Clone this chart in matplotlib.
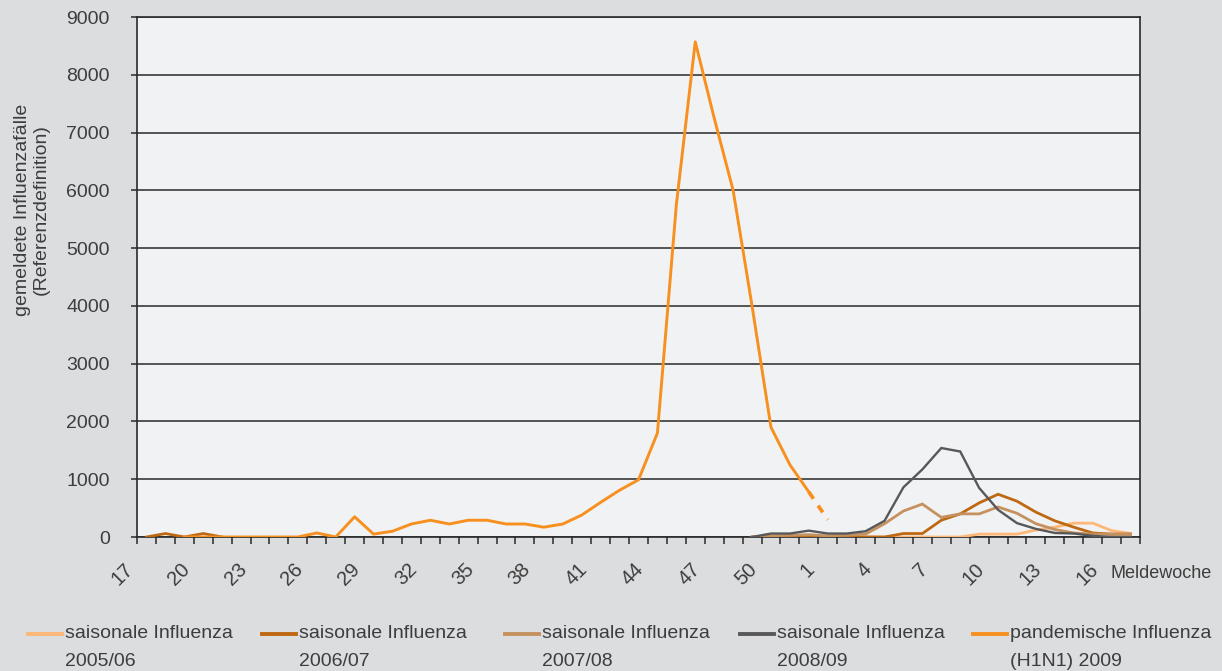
import numpy as np
import matplotlib
matplotlib.use('Agg')
import matplotlib.pyplot as plt
from matplotlib.lines import Line2D

plt.rcParams['font.family'] = ['Liberation Sans', 'DejaVu Sans']

N = None
# Meldewochen: 17/2009 ... 52/2009, 1/2010 ... 17/2010
weeks = list(range(17, 53)) + list(range(1, 18))

pandemic = [N, N, 0, 0, 0, 0, 0, 0, 0, 70,
            0, 350, 50, 100, 225, 290, 225, 290, 290, 225,
            225, 170, 225, 380, 600, 810, 990, 1800, 5750, 8570,
            7250, 6000, 4000, 1900, 1250, 780, 300, N, N, N,
            N, N, N, N, N, N, N, N, N, N,
            N, N, N]
prelim_from = 35  # last segment (week 52 -> week 1) dashed

s0506 = [N, N, N, N, N, N, N, N, N, N,
         N, N, N, N, N, N, N, N, N, N,
         N, N, N, N, N, N, N, N, N, N,
         N, N, 0, 0, 0, 0, 0, 0, 0, 0,
         0, 0, 0, 0, 50, 50, 50, 120, 170, 240,
         240, 110, 60]
s0607 = [0, 60, 0, 60, 0, N, N, N, N, N,
         N, N, N, N, N, N, N, N, N, N,
         N, N, N, N, N, N, N, N, N, N,
         N, N, 0, 0, 0, 0, 0, 0, 0, 0,
         60, 60, 290, 400, 590, 740, 620, 430, 280, 170,
         70, 50, 50]
s0708 = [N, N, N, N, N, N, N, N, N, N,
         N, N, N, N, N, N, N, N, N, N,
         N, N, N, N, N, N, N, N, N, N,
         N, N, 0, 20, 30, 40, 20, 30, 50, 230,
         450, 570, 340, 400, 400, 520, 410, 230, 130, 70,
         50, 50, 50]
s0809 = [N, N, N, N, N, N, N, N, N, N,
         N, N, N, N, N, N, N, N, N, N,
         N, N, N, N, N, N, N, N, N, N,
         N, N, 0, 60, 60, 110, 60, 60, 100, 280,
         860, 1170, 1540, 1480, 850, 470, 240, 140, 70, 60,
         20, 0, 0]

legend_l1 = ['saisonale Influenza', 'saisonale Influenza', 'saisonale Influenza',
             'saisonale Influenza', 'pandemische Influenza']
legend_l2 = ['2005/06', '2006/07', '2007/08', '2008/09', '(H1N1) 2009']
colors = ['#fdb878', '#bf6812', '#c4915f', '#58585a', '#f7901e']
widths = [2.0, 2.0, 2.0, 1.7, 2.1]

def arr(v):
    return np.array([np.nan if a is None else a for a in v], dtype=float)

W, H = 1222, 671
fig = plt.figure(figsize=(W / 100, H / 100), dpi=100, facecolor='#dcdddf')
ax = fig.add_axes([137 / W, 1 - 537 / H, (1140 - 137) / W, (537 - 17) / H])
ax.set_facecolor('#f1f2f4')

x = np.arange(len(weeks))
for vals, c, lw in zip([s0506, s0607, s0708, s0809], colors[:4], widths[:4]):
    ax.plot(x, arr(vals), color=c, lw=lw, solid_joinstyle='miter', zorder=3)

p = arr(pandemic)
p_solid = p.copy()
p_solid[prelim_from + 1:] = np.nan
ax.plot(x, p_solid, color=colors[4], lw=widths[4], zorder=4)
ax.plot(x[prelim_from:prelim_from + 2], p[prelim_from:prelim_from + 2], color=colors[4],
        lw=widths[4] + 0.6, ls=(0, (2.2, 2.2)), zorder=4)

ax.set_xlim(-0.5, len(weeks) - 0.5)
ax.set_ylim(0, 9000)
ax.set_yticks(np.arange(0, 9001, 1000))
ax.yaxis.grid(True, color='#2a2a2a', lw=1.1)
ax.set_axisbelow(True)
ax.tick_params(axis='y', length=4.5, width=1.1, color='#2a2a2a', pad=15,
               labelsize=14, labelcolor='#3d3d3d')
ax.set_xticks(np.arange(-0.5, len(weeks), 1))
ax.tick_params(axis='x', length=5, width=1.1, color='#2a2a2a', labelbottom=False)
for s in ax.spines.values():
    s.set_color('#2a2a2a')
    s.set_linewidth(1.2)

for k, w in enumerate(weeks):
    if k % 3 == 0:
        ax.annotate(str(w), xy=(k - 0.5, 0), xycoords=('data', 'axes fraction'),
                    xytext=(-5, -21), textcoords='offset points', rotation=45,
                    ha='right', va='center', rotation_mode='anchor',
                    fontsize=14.5, color='#3d3d3d', annotation_clip=False)
fig.text(1110 / W, 1 - 574 / H, 'Meldewoche', fontsize=13, color='#3d3d3d',
         ha='left', va='center')

ax.set_ylabel('gemeldete Influenzafälle\n(Referenzdefinition)', fontsize=14,
              color='#3d3d3d', linespacing=1.1)
ax.yaxis.set_label_coords(-0.087, 0.63)

# legend
hx = [28, 262, 505, 740, 973]
for k in range(5):
    y1 = 1 - 634 / H
    fig.add_artist(Line2D([hx[k] / W, (hx[k] + 34) / W], [y1, y1], transform=fig.transFigure,
                          color=colors[k], lw=2.8))
    fig.text((hx[k] + 37) / W, y1, legend_l1[k], fontsize=14, color='#3d3d3d',
             ha='left', va='center')
    fig.text((hx[k] + 37) / W, 1 - 661 / H, legend_l2[k], fontsize=14, color='#3d3d3d',
             ha='left', va='center')

fig.savefig('out.png', dpi=100, facecolor=fig.get_facecolor())
